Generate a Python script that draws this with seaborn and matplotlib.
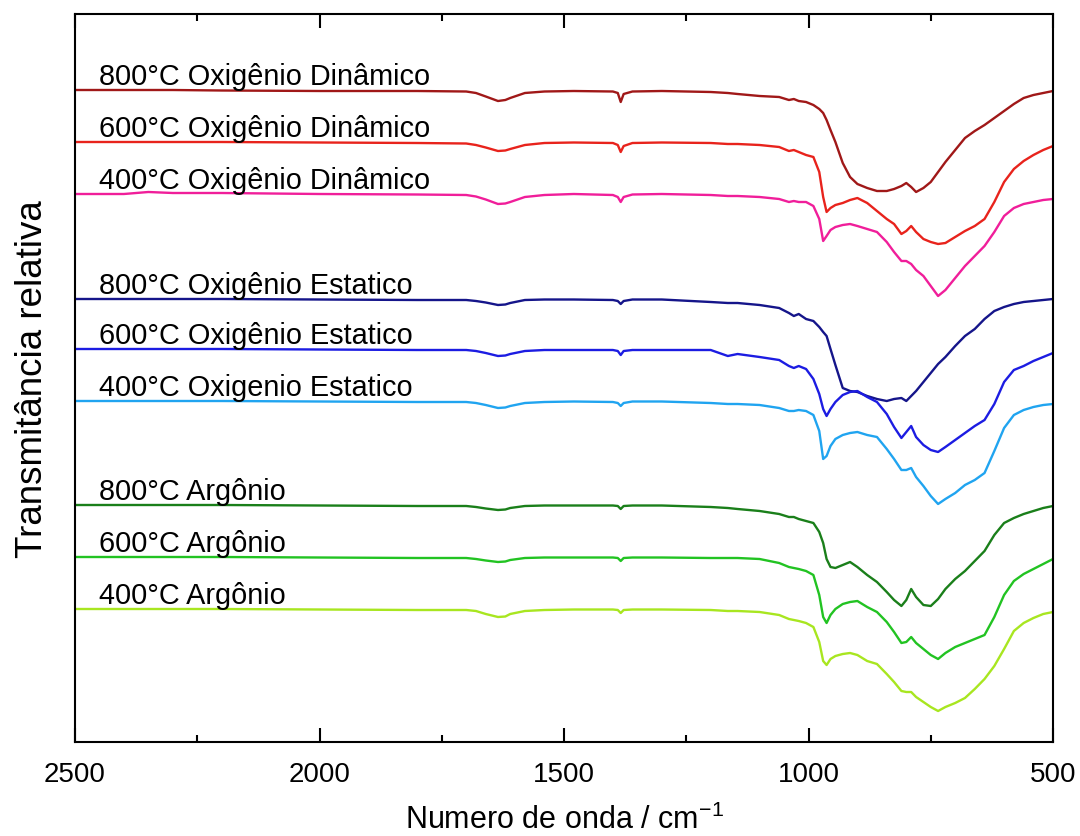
import numpy as np
import pandas as pd
import matplotlib
matplotlib.use("Agg")
import matplotlib.pyplot as plt
import seaborn as sns
from matplotlib.ticker import MultipleLocator

# ---------------- data ----------------
wavenumber = [2500, 2400, 2350, 2300, 2200,
              2000, 1800, 1700, 1680, 1660,
              1635, 1620, 1610, 1580, 1540,
              1480, 1400, 1390, 1384, 1378,
              1360, 1300, 1200, 1165, 1145,
              1100, 1060, 1040, 1030, 1020,
              1005, 990, 978, 970, 963,
              955, 945, 930, 915, 900,
              880, 860, 840, 825, 810,
              800, 790, 780, 765, 750,
              735, 720, 700, 680, 660,
              640, 620, 600, 580, 560,
              540, 520, 500]

samples = ["800°C Oxigênio Dinâmico", "600°C Oxigênio Dinâmico", "400°C Oxigênio Dinâmico",
           "800°C Oxigênio Estatico", "600°C Oxigênio Estatico", "400°C Oxigenio Estatico",
           "800°C Argônio", "600°C Argônio", "400°C Argônio"]

# vertical offset of each stacked spectrum (arbitrary units)
offsets = [652, 600, 548, 443, 393, 341, 237, 185, 133]

# absorption depth below each spectrum's baseline (arbitrary units)
o2_din_800 = [0, 0, 0, 0, 0.5,
              1, 1, 1.5, 3, 6.5,
              11, 10, 8, 3, 1.5,
              1, 1.5, 3, 12, 4,
              1.5, 1, 2, 3, 4,
              6, 7, 10, 9, 11,
              12, 15, 19, 23, 30,
              40, 52, 73, 87, 94,
              98, 101, 101, 99, 96,
              93, 97, 102, 98, 92,
              82, 72, 60, 48, 41,
              35, 28, 21, 14, 8,
              5, 3, 1]
o2_din_600 = [0, 0, 0, 0, 0,
              0.5, 1, 1.5, 3, 5.5,
              9, 8.5, 7, 3, 1,
              0.5, 1, 3, 10, 4,
              1, 0.5, 1, 2, 2,
              3, 5, 9, 8, 10,
              13, 15, 30, 55, 70,
              66, 63, 61, 58, 56,
              61, 69, 77, 82, 92,
              89, 84, 90, 97, 100,
              102, 101, 95, 89, 84,
              77, 60, 40, 27, 19,
              13, 8, 4]
o2_din_400 = [0, 0, -2, -1, -1,
              0, 0.5, 1, 2.5, 5.5,
              10, 9.5, 8, 3, 1,
              0, 1, 3, 8, 3,
              0.5, 0, 1, 2, 2,
              3, 5, 8, 7, 8,
              8, 12, 25, 47, 42,
              36, 33, 31, 30, 32,
              35, 38, 48, 58, 67,
              67, 70, 76, 82, 92,
              102, 96, 84, 72, 62,
              52, 38, 22, 14, 10,
              8, 6, 5]
o2_est_800 = [0, 0, 0, 0, 0,
              0.5, 1, 1, 2, 3.5,
              6, 5.5, 4, 1, 0.5,
              0.5, 1, 2, 5, 2,
              0.5, 0.5, 3, 4, 4,
              6, 9, 14, 17, 15,
              20, 22, 28, 33, 37,
              50, 66, 89, 92, 93,
              97, 100, 102, 100, 99,
              102, 97, 92, 83, 74,
              65, 58, 47, 37, 30,
              20, 12, 8, 5, 3,
              2, 1, 0]
o2_est_600 = [0, 0, 0, 0, 0,
              0.5, 1, 1, 2, 4,
              7, 6.5, 5, 2, 1,
              1, 1, 2, 6, 2,
              1, 1, 1, 7, 5,
              8, 11, 17, 19, 17,
              20, 30, 45, 60, 67,
              60, 53, 46, 43, 42,
              48, 53, 65, 78, 89,
              83, 77, 88, 96, 101,
              103, 98, 91, 84, 77,
              71, 55, 33, 21, 17,
              12, 8, 4]
o2_est_400 = [0, 0, 0, 0, 0,
              0.5, 1, 1, 2, 4,
              7, 6.5, 5, 2, 1,
              0.5, 1, 2, 5, 2,
              0.5, 0.5, 2, 3, 3,
              4, 7, 10, 10, 9,
              10, 14, 30, 58, 55,
              45, 38, 34, 32, 31,
              34, 36, 48, 58, 69,
              69, 67, 76, 85, 95,
              103, 98, 92, 84, 79,
              72, 50, 27, 14, 9,
              6, 4, 3]
ar_800 = [0, 0, 0, 0, 0,
          0.5, 1, 1, 2, 3.5,
          5, 4.5, 3, 1, 0.5,
          0.5, 0.5, 1, 4, 1,
          0.5, 0.5, 2, 3, 4,
          6, 9, 12, 12, 14,
          16, 18, 27, 38, 54,
          62, 63, 60, 57, 62,
          70, 77, 87, 95, 101,
          95, 84, 92, 100, 101,
          94, 84, 74, 66, 56,
          46, 30, 18, 13, 9,
          6, 3, 1]
ar_600 = [0, 0, 0, 0, 0,
          0.5, 1, 1, 2, 3.5,
          5, 4.5, 3, 1, 0.5,
          0.5, 0.5, 1, 4, 1,
          0.5, 0.5, 1, 1, 1,
          2, 6, 10, 11, 12,
          14, 18, 38, 60, 66,
          58, 52, 47, 45, 44,
          50, 55, 65, 75, 86,
          85, 80, 86, 92, 98,
          102, 96, 90, 86, 82,
          78, 60, 38, 24, 17,
          12, 7, 2]
ar_400 = [0, 0, 0, 0, 0,
          0.5, 1, 1, 2, 5,
          8, 7.5, 5, 2, 1,
          0.5, 0.5, 1, 4, 1,
          0.5, 0.5, 1, 2, 2,
          3, 6, 10, 11, 12,
          14, 18, 33, 52, 56,
          50, 47, 45, 44, 46,
          52, 55, 65, 73, 82,
          83, 83, 88, 93, 98,
          102, 98, 94, 89, 80,
          70, 57, 40, 22, 14,
          9, 5, 3]

depths = [o2_din_800, o2_din_600, o2_din_400,
          o2_est_800, o2_est_600, o2_est_400,
          ar_800, ar_600, ar_400]

colors = ["#A01818", "#E8231C", "#F01E9A",
          "#15158A", "#1C1CE2", "#20A4F0",
          "#1A7F1A", "#22C322", "#A8E620"]

# ---------------- build long table ----------------
rows = []
for name, off, d in zip(samples, offsets, depths):
    for w, v in zip(wavenumber, d):
        rows.append({"wn": w, "T": off - v, "sample": name})
df = pd.DataFrame(rows)

sns.set_style("white")
plt.rcParams['font.family'] = ['Liberation Sans', 'DejaVu Sans']
plt.rcParams['mathtext.default'] = 'regular'
plt.rcParams['text.color'] = 'black'
plt.rcParams['axes.labelcolor'] = 'black'
plt.rcParams['xtick.color'] = 'black'
plt.rcParams['ytick.color'] = 'black'

fig = plt.figure(figsize=(10.8, 8.37), dpi=100)
ax = fig.add_axes([75 / 1080, 94 / 837, 978 / 1080, 728 / 837])

sns.lineplot(data=df, x="wn", y="T", hue="sample", hue_order=samples,
             palette=dict(zip(samples, colors)), sort=False, estimator=None,
             legend=False, linewidth=1.7, ax=ax)
for line in ax.get_lines():
    line.set_solid_joinstyle("round")

for name, off in zip(samples, offsets):
    ax.text(2450, off + 6, name, fontsize=20.8, color="black", va="baseline", ha="left")

ax.set_xlim(2500, 500)
ax.set_ylim(0, 728)
ax.xaxis.set_major_locator(MultipleLocator(500))
ax.xaxis.set_minor_locator(MultipleLocator(250))
ax.tick_params(axis="x", which="both", direction="in", top=True, bottom=True,
               labelsize=20, pad=14, width=1.5, color="black", labelcolor="black")
ax.tick_params(axis="x", which="major", length=10)
ax.tick_params(axis="x", which="minor", length=5)
ax.set_yticks([])
for s in ax.spines.values():
    s.set_linewidth(1.5)
    s.set_color("black")

ax.set_xlabel(r"Numero de onda / cm$^{-1}$", fontsize=22, labelpad=12)
ax.set_ylabel("Transmitância relativa", fontsize=26.5, labelpad=18)

fig.savefig("out.png", dpi=100)
